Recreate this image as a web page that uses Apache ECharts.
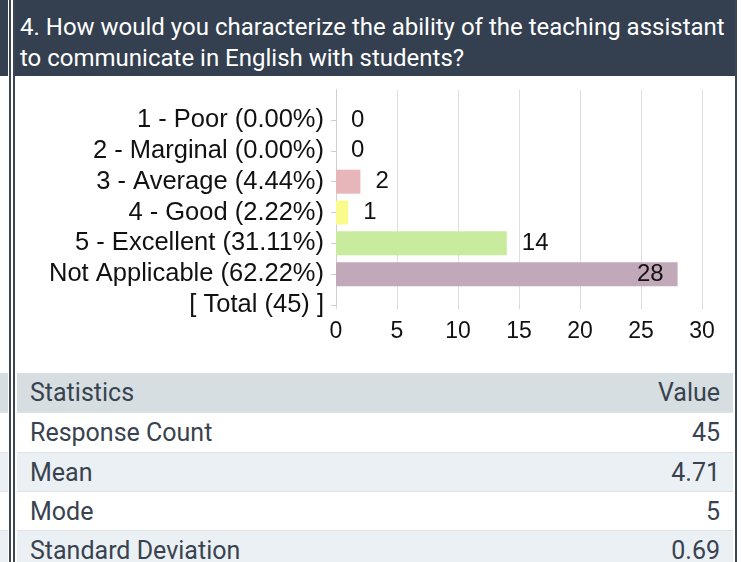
<!DOCTYPE html>
<html>
<head>
<meta charset="utf-8">
<script src="https://cdn.jsdelivr.net/npm/echarts@6/dist/echarts.min.js"></script>
<style>
  html, body { margin: 0; padding: 0; width: 743px; height: 562px; overflow: hidden; background: #fff; }
  .abs { position: absolute; }
  #leftHead { left: 0; top: 0; width: 8px; height: 76px; background: #343f4f; }
  #lineA { left: 9px; top: 0; width: 2px; height: 562px; background: #3b4656; }
  #lineB { left: 13px; top: 0; width: 2px; height: 562px; background: #3b4656; }
  #lineR { left: 735px; top: 0; width: 2px; height: 562px; background: #3b4656; }
  #head { left: 13px; top: 0; width: 724px; height: 76px; background: #343f4f; color: #fff;
          font-family: Roboto, "Liberation Sans", Arial, sans-serif; font-size: 24px; line-height: 31px;
          box-sizing: border-box; padding: 12px 0 0 7px; white-space: nowrap; }
  #chart { left: 15px; top: 76px; width: 720px; height: 296px; }
  .row { position: absolute; height: 39px; box-sizing: border-box; font-family: Roboto, "Liberation Sans", Arial, sans-serif;
         font-size: 25px; color: #39434f; line-height: 40px; }
  .row .k { position: absolute; left: 13px; }
  .row .v { position: absolute; right: 13px; }
  .lrow { position: absolute; left: 0; width: 8px; height: 39px; }
</style>
</head>
<body>
<div id="leftHead" class="abs"></div>
<div id="head" class="abs"></div>
<div id="chart" class="abs"></div>
<div id="table"></div>
<div id="lineA" class="abs"></div>
<div id="lineB" class="abs"></div>
<div id="lineR" class="abs"></div>
<script>
// ---- data ----
const titleLines = ["4. How would you characterize the ability of the teaching assistant", "to communicate in English with students?"];
const categories = ["1 - Poor (0.00%)", "2 - Marginal (0.00%)", "3 - Average (4.44%)", "4 - Good (2.22%)", "5 - Excellent (31.11%)", "Not Applicable (62.22%)", "[ Total (45) ]"];
const counts = [0, 0, 2, 1, 14, 28, null];
const barColors = ["#e6b6ba", "#e6b6ba", "#e6b6ba", "#fbfa8c", "#c9eb9e", "#c2a9b9", "#cccccc"];
const xTicks = [0, 5, 10, 15, 20, 25, 30];
const statNames = ["Statistics", "Response Count", "Mean", "Mode", "Standard Deviation"];
const statValues = ["Value", "45", "4.71", "5", "0.69"];

// ---- title ----
document.getElementById('head').innerHTML = titleLines.join('<br>');

// ---- table ----
const rowBg = ["#d6dee2", "#ffffff", "#ebf0f4", "#ffffff", "#ebf0f4"];
let html = '';
for (let i = 0; i < statNames.length; i++) {
  const top = 373 + i * 39.3;
  html += `<div class="row" style="left:17px;width:716px;top:${top}px;background:${rowBg[i]};${i>0?'border-top:1px solid #dde3e7;':''}">` +
          `<span class="k">${statNames[i]}</span><span class="v">${statValues[i]}</span></div>`;
  html += `<div class="lrow" style="top:${top}px;background:${rowBg[i]};${i>0?'border-top:1px solid #dde3e7;':''}"></div>`;
}
document.getElementById('table').innerHTML = html;

// ---- chart ----
const chart = echarts.init(document.getElementById('chart'), null, { renderer: 'canvas' });
const xMax = xTicks[xTicks.length - 1];
const interval = xTicks[1] - xTicks[0];
const fontFam = '"Liberation Sans", Arial, sans-serif';
const option = {
  animation: false,
  grid: [
    { left: 321, right: 33, top: 44, height: 185 },
    { left: 321, right: 33, top: 13.5, height: 215.5 }
  ],
  xAxis: [
    {
      gridIndex: 0, type: 'value', min: 0, max: xMax, interval: interval,
      axisLine: { show: false },
      axisTick: { show: true, length: 4, lineStyle: { color: '#d6d6d6' } },
      splitLine: { show: false },
      axisLabel: { color: '#111', fontSize: 23, fontFamily: fontFam, margin: 15 }
    },
    {
      gridIndex: 1, type: 'value', min: 0, max: xMax, interval: interval,
      axisLine: { show: false }, axisTick: { show: false }, axisLabel: { show: false },
      splitLine: { show: true, lineStyle: { color: '#dedede', width: 1 } }
    }
  ],
  yAxis: [
    {
      gridIndex: 0, type: 'category', data: categories, inverse: true, boundaryGap: false,
      axisLine: { show: true, lineStyle: { color: '#cfcfcf' } },
      axisTick: { show: true, length: 5, lineStyle: { color: '#cfcfcf' } },
      axisLabel: { color: '#111', fontSize: 25.5, fontFamily: fontFam, margin: 12, interval: 0 }
    },
    {
      gridIndex: 1, type: 'value', min: 0, max: 1,
      axisLine: { show: true, lineStyle: { color: '#cfcfcf' } },
      axisTick: { show: false }, axisLabel: { show: false }, splitLine: { show: false }
    }
  ],
  series: [{
    type: 'bar',
    xAxisIndex: 0, yAxisIndex: 0,
    barWidth: 24,
    data: counts.map((v, i) => ({
      value: v,
      itemStyle: { color: barColors[i] },
      label: (v !== null && v > xMax * 0.8) ? { position: 'insideRight', distance: 14 } : undefined
    })),
    label: {
      show: true, position: 'right', distance: 15,
      color: '#111', fontSize: 24, fontFamily: fontFam,
      formatter: p => (p.value === null || p.value === undefined) ? '' : String(p.value)
    }
  }]
};
chart.setOption(option);
</script>
</body>
</html>
